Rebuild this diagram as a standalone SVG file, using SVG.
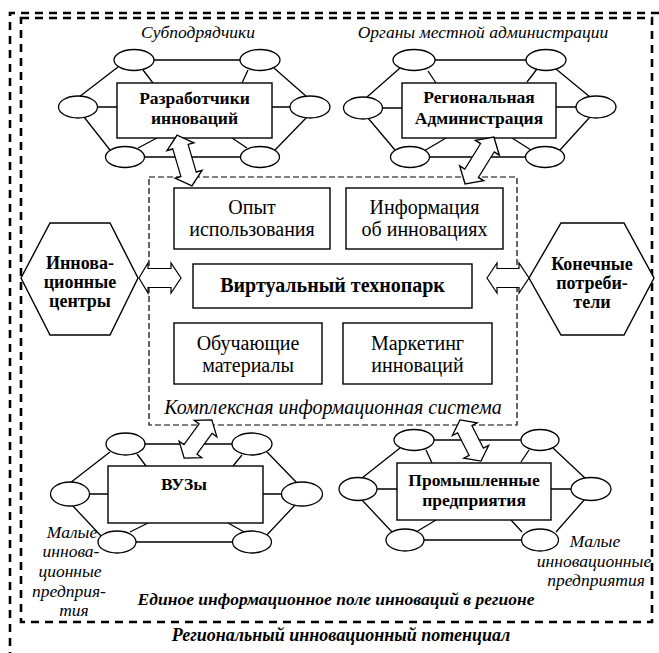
<svg xmlns="http://www.w3.org/2000/svg" width="659" height="653" viewBox="0 0 659 653">
  <style>
    .frame { fill: none; stroke: #000; stroke-width: 2.6; stroke-dasharray: 8 6; }
    .sys { fill: none; stroke: #000; stroke-width: 1.2; stroke-dasharray: 6 3; }
    .box { fill: #fff; stroke: #000; stroke-width: 1.4; }
    .node { fill: #fff; stroke: #000; stroke-width: 1.3; }
    .link { stroke: #000; stroke-width: 1.3; fill: none; }
    .arrow { fill: #fff; stroke: #000; stroke-width: 1.2; stroke-linejoin: miter; }
    text { fill: #000; text-anchor: middle; }
    .b { font-weight: bold; font-size: 17.5px; }
    .h { font-weight: bold; font-size: 18px; }
    .r { font-size: 20px; }
    .i { font-style: italic; font-size: 17.5px; }
    .bi { font-style: italic; font-weight: bold; font-size: 17.5px; }
  </style>
  <defs>
    <!-- double-headed block arrow along the x axis, 44 px long -->
    <path id="dbl" d="M-22,0 L-12,-14 L-12,-8 L12,-8 L12,-14 L22,0 L12,14 L12,8 L-12,8 L-12,14 Z"/>
  </defs>
  <rect width="659" height="653" fill="#fff"/>
  <g font-family="'Liberation Serif', 'DejaVu Serif', 'Times New Roman', serif">

  <!-- outer and inner dashed frames -->
  <g id="frames">
    <path class="frame" d="M10,660 V13 H665"/>
    <rect class="frame" x="21" y="18" width="631" height="604"/>
    <text class="bi" x="341" y="641" style="font-size:18px">Региональный инновационный потенциал</text>
    <text class="bi" x="336" y="605">Единое информационное поле инноваций в регионе</text>
  </g>

  <!-- central information system -->
  <g id="system">
    <rect class="sys" x="149" y="177" width="368" height="248"/>
    <text class="i" x="333" y="414" style="font-size:20px">Комплексная информационная система</text>
  </g>
  <g id="experience">
    <rect class="box" x="174" y="188" width="156" height="61"/>
    <text class="r" x="252" y="214">Опыт</text>
    <text class="r" x="252" y="236">использования</text>
  </g>
  <g id="info">
    <rect class="box" x="346" y="188" width="157" height="61"/>
    <text class="r" x="424.5" y="214">Информация</text>
    <text class="r" x="424.5" y="236">об инновациях</text>
  </g>
  <g id="technopark">
    <rect class="box" x="193" y="264" width="279" height="44"/>
    <text class="b" x="332.5" y="292" style="font-size:20px">Виртуальный технопарк</text>
  </g>
  <g id="training">
    <rect class="box" x="174" y="323" width="148" height="61"/>
    <text class="r" x="248" y="350">Обучающие</text>
    <text class="r" x="248" y="372">материалы</text>
  </g>
  <g id="marketing">
    <rect class="box" x="343" y="323" width="149" height="61"/>
    <text class="r" x="417.5" y="350">Маркетинг</text>
    <text class="r" x="417.5" y="372">инноваций</text>
  </g>

  <!-- side hexagons -->
  <g id="centers">
    <polygon class="box" points="21,278 50,223 110,223 138,278 110,335 50,335"/>
    <text class="h" x="80" y="269">Иннова-</text>
    <text class="h" x="80" y="288">ционные</text>
    <text class="h" x="80" y="307">центры</text>
  </g>
  <g id="consumers">
    <polygon class="box" points="529,278 561,223 624,223 654,278 624,335 561,335"/>
    <text class="h" x="592" y="270">Конечные</text>
    <text class="h" x="592" y="289">потреби-</text>
    <text class="h" x="592" y="308">тели</text>
  </g>

  <!-- cluster: developers -->
  <g id="developers">
    <g class="link">
      <path d="M154,60 H240 M145,157 H240 M79,97 L118,67 M84,117 L110,150 M274,68 L307,97 M307,117 L275,150 M98,107 H117 M272,107 H290 M143,70 L153,83 M248,70 L242,83 M138,148 L157,138 M247,148 L232,138"/>
    </g>
    <ellipse class="node" cx="134" cy="60" rx="20" ry="10.5"/>
    <ellipse class="node" cx="260" cy="60" rx="20" ry="10.5"/>
    <ellipse class="node" cx="78" cy="107" rx="19.5" ry="11"/>
    <ellipse class="node" cx="310" cy="107" rx="20" ry="11"/>
    <ellipse class="node" cx="125" cy="157" rx="19.5" ry="10.5"/>
    <ellipse class="node" cx="260" cy="157" rx="19.5" ry="10.5"/>
    <rect class="box" x="117" y="83" width="155" height="55"/>
    <text class="b" x="194.5" y="104">Разработчики</text>
    <text class="b" x="194.5" y="124">инноваций</text>
    <text class="i" x="198" y="38">Субподрядчики</text>
  </g>

  <!-- cluster: regional administration -->
  <g id="administration">
    <g class="link">
      <path d="M435,60 H526 M430,157 H525 M367,97 L400,68 M368,118 L395,150 M556,69 L590,97 M590,117 L560,150 M383,108 H402 M556,107 H576 M428,71 L436,83 M537,69 L527,82 M424,151 L446,138 M531,150 L512,138"/>
    </g>
    <ellipse class="node" cx="414" cy="60" rx="21" ry="10.5"/>
    <ellipse class="node" cx="546" cy="60" rx="20" ry="10.5"/>
    <ellipse class="node" cx="363" cy="108" rx="19.5" ry="11"/>
    <ellipse class="node" cx="596" cy="107" rx="20" ry="11"/>
    <ellipse class="node" cx="410" cy="157" rx="19.5" ry="10.5"/>
    <ellipse class="node" cx="545" cy="157" rx="19.5" ry="10.5"/>
    <rect class="box" x="402" y="83" width="154" height="55"/>
    <text class="b" x="479" y="103">Региональная</text>
    <text class="b" x="479" y="124">Администрация</text>
    <text class="i" x="483" y="38">Органы местной администрации</text>
  </g>

  <!-- cluster: universities -->
  <g id="universities">
    <g class="link">
      <path d="M145,444 H232 M136,542 H233 M70,483 L110,452 M72,505 L102,537 M267,452 L297,483 M296,504 L265,537 M89,494 H108 M263,494 H282 M137,454 L146,466 M242,455 L233,466 M130,532 L148,523 M228,523 L246,533"/>
    </g>
    <ellipse class="node" cx="125.5" cy="444" rx="19.5" ry="11"/>
    <ellipse class="node" cx="252" cy="444" rx="20" ry="11"/>
    <ellipse class="node" cx="70" cy="494" rx="19.5" ry="12"/>
    <ellipse class="node" cx="302" cy="494" rx="20.5" ry="12"/>
    <ellipse class="node" cx="117" cy="542" rx="19" ry="11"/>
    <ellipse class="node" cx="252" cy="542" rx="19.5" ry="11"/>
    <rect class="box" x="108" y="466" width="155" height="57"/>
    <text class="b" x="184" y="490">ВУЗы</text>
    <text class="i" x="72" y="538">Малые</text>
    <text class="i" x="71" y="557">иннова-</text>
    <text class="i" x="70" y="577">ционные</text>
    <text class="i" x="69" y="597">предприя-</text>
    <text class="i" x="74" y="616">тия</text>
  </g>

  <!-- cluster: industrial enterprises -->
  <g id="industry">
    <g class="link">
      <path d="M434,440 H521 M424,540 H521 M362,478 L400,448 M362,500 L392,532 M553,448 L586,479 M585,499 L556,532 M377,489 H397 M551,489 H571 M426,450 L432,463 M529,450 L521,462 M416,532 L436,520 M522,532 L511,520"/>
    </g>
    <ellipse class="node" cx="414" cy="440" rx="20" ry="10.5"/>
    <ellipse class="node" cx="540" cy="440" rx="19" ry="10.5"/>
    <ellipse class="node" cx="358" cy="489" rx="19" ry="11.5"/>
    <ellipse class="node" cx="591" cy="489" rx="20" ry="11.5"/>
    <ellipse class="node" cx="405" cy="540" rx="19" ry="11"/>
    <ellipse class="node" cx="540" cy="540" rx="18.5" ry="11"/>
    <rect class="box" x="397" y="463" width="154" height="57"/>
    <text class="b" x="474" y="486">Промышленные</text>
    <text class="b" x="474" y="506">предприятия</text>
    <text class="i" x="595" y="547">Малые</text>
    <text class="i" x="594" y="567">инновационные</text>
    <text class="i" x="596" y="586">предприятия</text>
  </g>

  <!-- two-way links between the system and its partners -->
  <g id="connectors">
    <path class="arrow" d="M139,278 L148,263 L148,268.5 L171,268.5 L171,263 L181,278 L171,293 L171,287.5 L148,287.5 L148,293 Z"/>
    <path class="arrow" d="M487,278 L497,263 L497,268.5 L519,268.5 L519,263 L529,278 L519,293 L519,287.5 L497,287.5 L497,293 Z"/>
    <use href="#dbl" class="arrow" transform="translate(184.5,160.5) rotate(73.6) scale(1.2,1)"/>
    <use href="#dbl" class="arrow" transform="translate(479.5,160.5) rotate(121.7) scale(1.25,1)"/>
    <use href="#dbl" class="arrow" transform="translate(198,439) rotate(126) scale(1.07,1)"/>
    <use href="#dbl" class="arrow" transform="translate(470.5,440.5) rotate(62.9) scale(1.05,1)"/>
  </g>
  </g>
</svg>
